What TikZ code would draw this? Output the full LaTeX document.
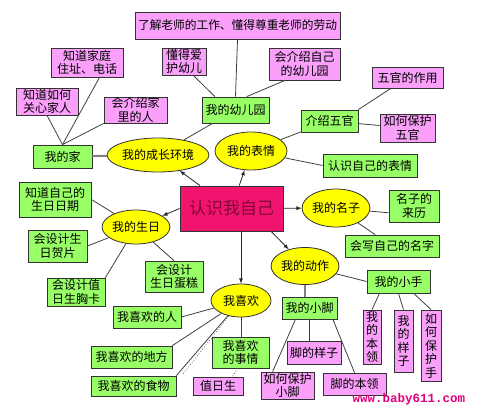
\documentclass[tikz,border=0pt]{standalone}
\usepackage{fontspec}
\setmainfont{Noto Sans CJK SC}
\newfontfamily\urlfont{Liberation Mono}
\usetikzlibrary{
  shapes.geometric,
  calc,
  arrows}

\definecolor{boxpink}{RGB}{250,160,250}
\definecolor{boxgreen}{RGB}{153,255,102}
\definecolor{topicyellow}{RGB}{255,255,0}
\definecolor{corepink}{RGB}{240,20,110}
\definecolor{coretext}{RGB}{130,5,60}
\definecolor{urlpink}{RGB}{225,0,125}

\begin{document}
\begin{tikzpicture}[
  x=1pt, y=-1pt,
  font=\fontsize{12}{13.5}\selectfont,
  box/.style={draw=black!80, line width=0.8pt, inner sep=0pt, align=center},
  pinkbox/.style={box, fill=boxpink},
  greenbox/.style={box, fill=boxgreen},
  boxsize/.style 2 args={minimum width=#1pt, minimum height=#2pt},
  topic/.style={ellipse, draw=black!80, line width=0.8pt, fill=topicyellow, inner sep=0pt},
  link/.style={draw=black!75, line width=0.8pt},
  greylink/.style={draw=gray, line width=2pt},
  dotlink/.style={draw=black!60, line width=0.8pt, dotted},
  arrow/.style={-latex, draw=black!85, line width=0.8pt}
]%
  \useasboundingbox[fill=white] (0,0) rectangle (478,417);

  % Centre
  \node[box, fill=corepink, boxsize={103}{45}, text=coretext,
    font=\fontsize{17}{20}\selectfont] (me) at (231.5,208.5) {认识我自己};

  % Topics
  \node[topic, boxsize={90}{34}] (env)  at (158,155)   {我的成长环境};
  \node[topic, boxsize={72}{38}] (face) at (251,151)   {我的表情};
  \node[topic, boxsize={62}{34}] (bday) at (136,227)   {我的生日};
  \node[topic, boxsize={64}{38}] (name) at (336,208)   {我的名子};
  \node[topic, boxsize={64}{37}] (act)  at (305,266)   {我的动作};
  \node[topic, boxsize={60}{33}] (like) at (241,300.5) {我喜欢};

  % Growing up
  \node[greenbox, boxsize={59}{23}]  (home)    at (62.5,156.5) {我的家};
  \node[pinkbox, boxsize={72}{29}]   (addr)    at (87,62.5)    {知道家庭\\住址、电话};
  \node[pinkbox, boxsize={62}{27}]   (care)    at (47,101.5)   {知道如何\\关心家人};
  \node[pinkbox, boxsize={63}{26}]   (family)  at (135.5,110)  {会介绍家\\里的人};
  \node[greenbox, boxsize={67}{26}]  (kinder)  at (235.5,110)  {我的幼儿园};
  \node[pinkbox, boxsize={44}{27}]   (love)    at (184,61.5)   {懂得爱\\护幼儿};
  \node[pinkbox, boxsize={205}{27}, font=\fontsize{11.7}{13.5}\selectfont]
    (teacher) at (237.5,25.5) {了解老师的工作、懂得尊重老师的劳动};
  \node[pinkbox, boxsize={71}{32}]   (intro)   at (304.5,64)   {会介绍自己\\的幼儿园};

  % Face
  \node[greenbox, boxsize={57}{22}] (organs)   at (329.5,121)  {介绍五官};
  \node[pinkbox, boxsize={71}{21}]  (organuse) at (407.5,77.5) {五官的作用};
  \node[pinkbox, boxsize={55}{28}]  (organpro) at (407.5,128)  {如何保护\\五官};
  \node[greenbox, boxsize={94}{23}] (mood)     at (370,165.5)  {认识自己的表情};

  % Birthday
  \node[greenbox, boxsize={72}{35}] (date)  at (55,199.5) {知道自己的\\生日日期};
  \node[greenbox, boxsize={59}{32}] (card)  at (57.5,246) {会设计生\\日贺片};
  \node[greenbox, boxsize={58}{31}] (cake)  at (174,276.5) {会设计\\生日蛋糕};
  \node[greenbox, boxsize={58}{28}] (badge) at (76,292)   {会设计值\\日生胸卡};

  % Name
  \node[greenbox, boxsize={50}{32}] (origin) at (414,206) {名子的\\来历};
  \node[greenbox, boxsize={94}{22}] (write)  at (392,246) {会写自己的名字};

  % Actions
  \node[greenbox, boxsize={63}{23}] (hand)      at (398.5,281.5) {我的小手};
  \node[pinkbox, boxsize={18}{54}]  (handskill) at (372,337)     {我\\的\\本\\领};
  \node[pinkbox, boxsize={19}{62}]  (handlook)  at (403.5,341)   {我\\的\\样\\子};
  \node[pinkbox, boxsize={20}{71}]  (handcare)  at (431,345.5)   {如\\何\\保\\护\\手};
  \node[greenbox, boxsize={55}{22}] (foot)      at (309.5,308)   {我的小脚};
  \node[pinkbox, boxsize={54}{23}]  (footlook)  at (314,352.5)   {脚的样子};
  \node[pinkbox, boxsize={53}{27}]  (footcare)  at (287.5,385.5) {如何保护\\小脚};
  \node[pinkbox, boxsize={63}{22}]  (footskill) at (354.5,384)   {脚的本领};

  % Likes
  \node[greenbox, boxsize={68}{22}] (person) at (147,317)    {我喜欢的人};
  \node[greenbox, boxsize={81}{22}] (place)  at (131.5,357)  {我喜欢的地方};
  \node[greenbox, boxsize={85}{20}] (food)   at (133.5,386)  {我喜欢的食物};
  \node[greenbox, boxsize={57}{31}] (thing)  at (240.5,352.5) {我喜欢\\的事情};
  \node[pinkbox, boxsize={50}{18}]  (duty)   at (218,386)    {值日生};
  \coordinate (dotend) at (183,374);

  % Arrows from the centre
  \draw[arrow] (me) -- (env);
  \draw[arrow] (me) -- (face);
  \draw[arrow] (me.west) -- (bday);
  \draw[arrow] (me) -- (name);
  \draw[arrow] (me.-30) -- (act);
  \draw[arrow] (me.south -| like.north) -- (like.north);

  % Links
  \draw[greylink] (env) -- (home);
  \draw[link] (home.north) -- (addr.-50);
  \draw[link] (home.north) -- (care.south);
  \draw[link] (home.north) -- (family.south west);
  \draw[link] (env) -- (kinder);
  \draw[link] (kinder.147) -- (love.-56);
  \draw[link] (kinder.north) -- (teacher.south);
  \draw[link] (kinder.50) -- (intro.-140);

  \draw[link] (face) -- (organs);
  \draw[link] (face) -- (mood.west);
  \draw[link] (organs.north east) -- (organuse);
  \draw[link] (organs) -- (organpro);

  \draw[link] (bday) -- (date.east);
  \draw[link] (bday) -- (card.east);
  \draw[link] (bday) -- (badge.north east);
  \draw[link] (bday) -- (cake.north);

  \draw[link] (name) -- (origin.195);
  \draw[link] (name) -- (write);

  \draw[link] (act) -- (hand.west);
  \draw[greylink] (act.south) -- (act.south |- foot.north);
  \draw[link] (hand.212) -- (handskill.north);
  \draw[link] (hand.south) -- (handlook.north);
  \draw[link] (hand.-38) -- (handcare.north);
  \draw[link] (foot.219) -- (footcare.137);
  \draw[link] (foot.south) -- (foot.south |- footlook.north);
  \draw[link] (foot.-26) -- (footskill.north);

  \draw[link] (like) -- (person.east);
  \draw[link] (like) -- (place.north east);
  \draw[link] (like) -- (food.north east);
  \draw[dotlink] (like) -- (dotend);
  \draw[link] (like.south) -- (like.south |- thing.north);
  \draw[dotlink] (thing.-100) -- (duty.33);

  % Site mark
  \node[text=urlpink, font=\urlfont\bfseries\fontsize{12.5}{14}\selectfont]
    (site) at (409,399) {www.baby611.com};
\end{tikzpicture}
\end{document}
